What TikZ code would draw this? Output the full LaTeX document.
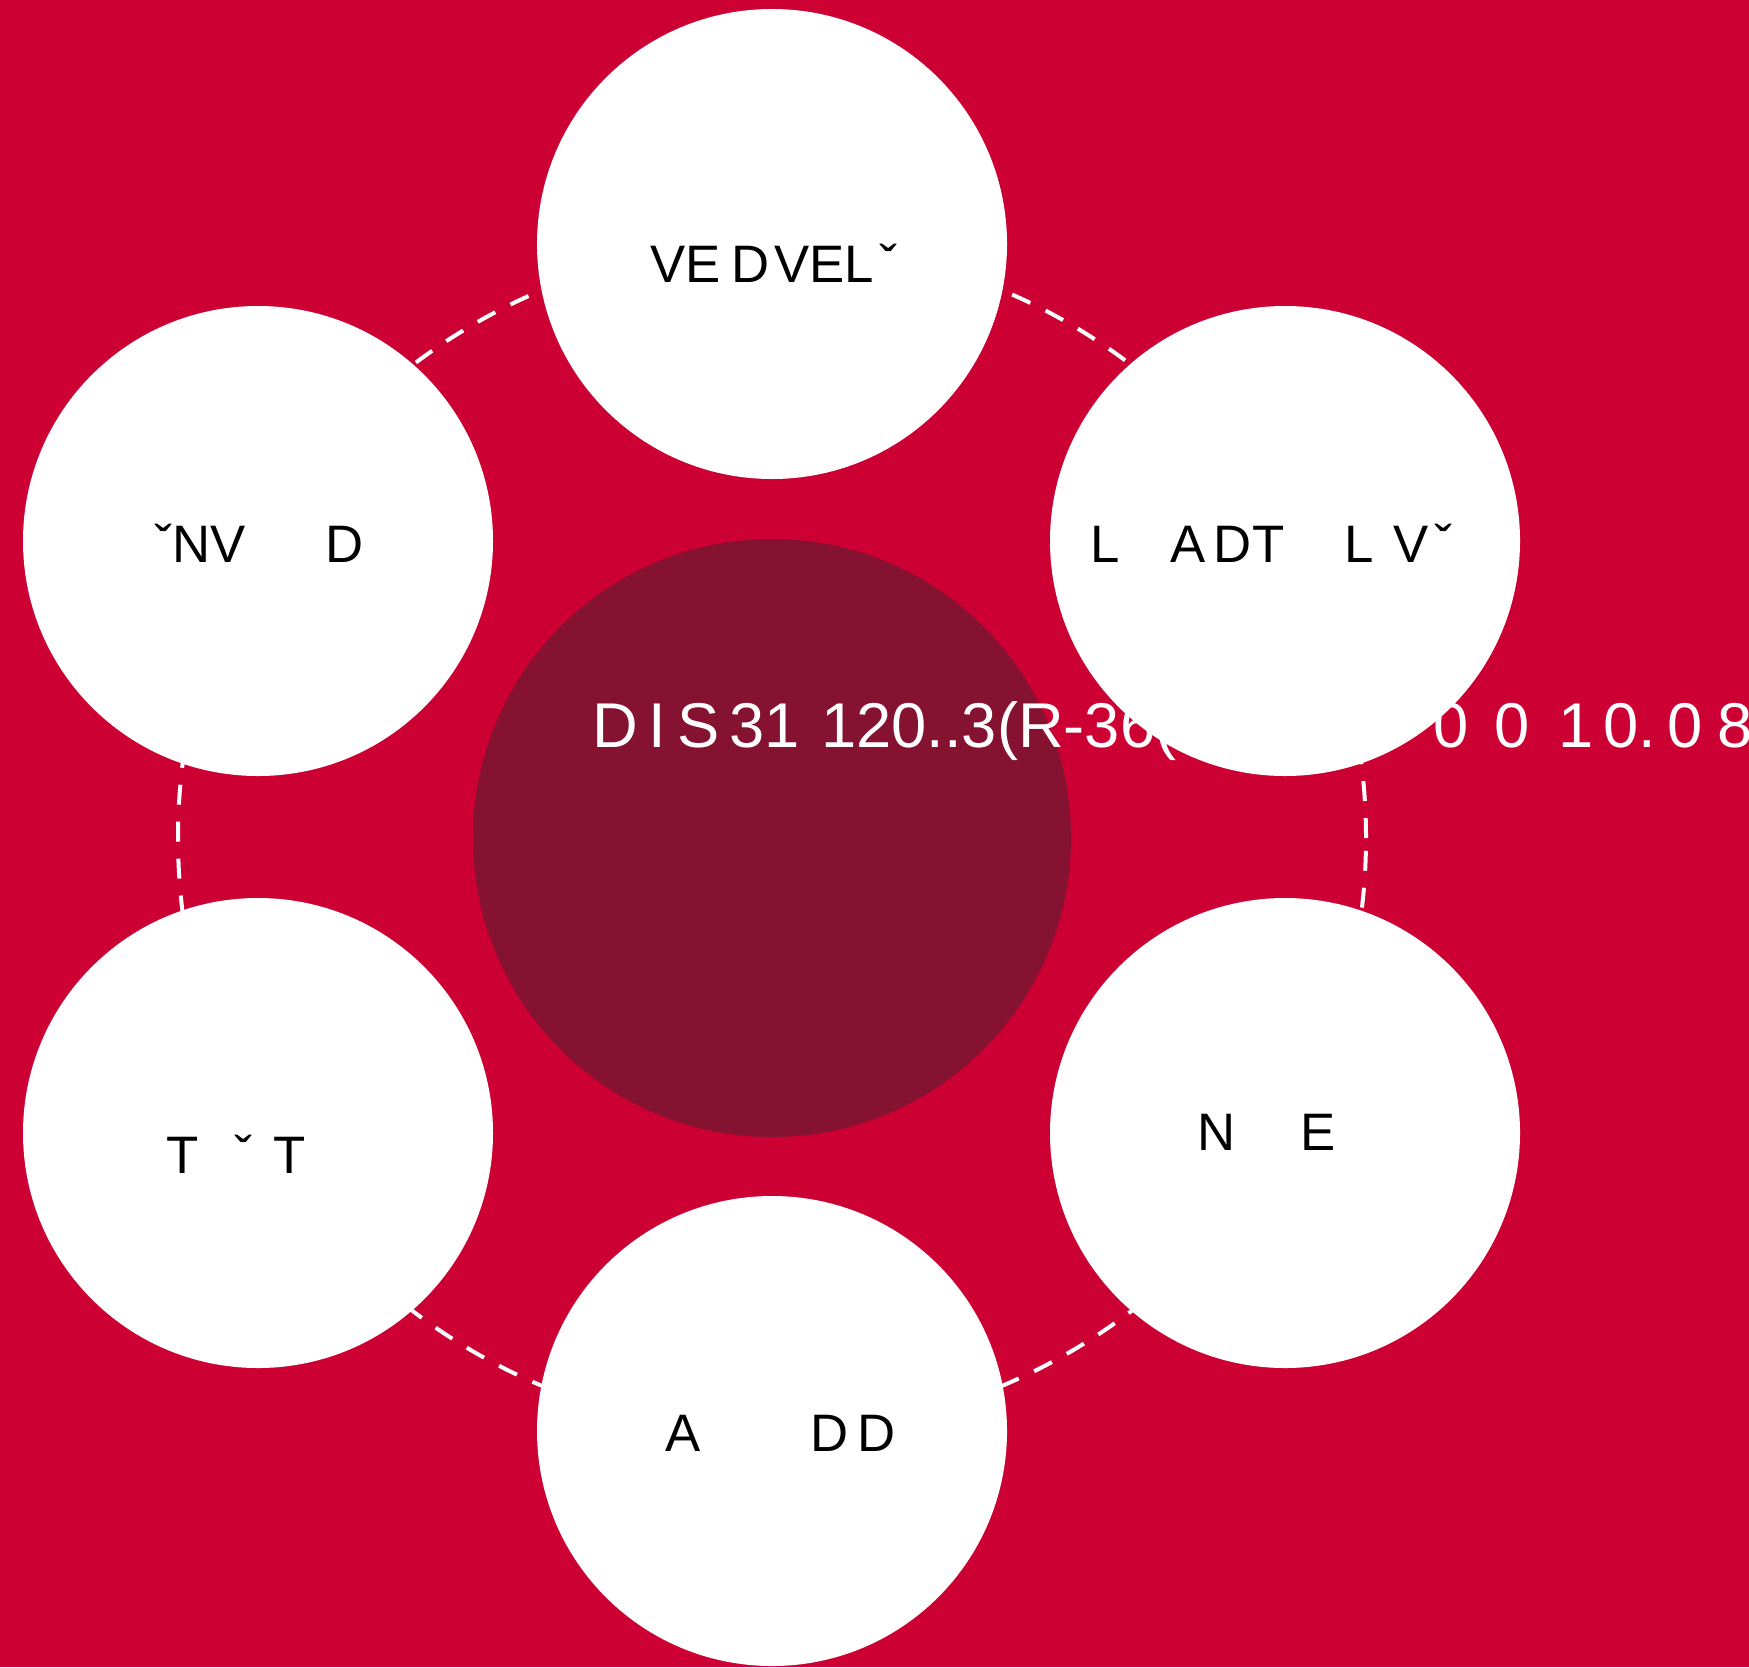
\documentclass[tikz,border=0pt]{standalone}
\usepackage{fontspec}
\setmainfont{Liberation Sans}
\definecolor{crimsonbg}{HTML}{CC0033}
\definecolor{wine}{HTML}{841230}
\usetikzlibrary{positioning}

\begin{document}
\begin{tikzpicture}[x=0.1mm, y=-0.1mm,
    hub/.style={circle, fill=wine, minimum size=59.8mm, inner sep=0pt},
    spoke/.style={circle, fill=white, minimum size=47mm, inner sep=0pt},
    spokelbl/.style={text=black, font=\fontsize{15}{18}\selectfont, anchor=base west, inner sep=0pt},
    corelbl/.style={text=white, font=\fontsize{18}{22}\selectfont, anchor=base west, inner sep=0pt},
    ring/.style={draw=white, line width=0.4mm, dash pattern=on 2mm off 1.7mm}]
  % background and frame
  \fill[crimsonbg] (0,0) rectangle (1749,1667);
  \useasboundingbox (0,0) rectangle (1749,1667);
  \coordinate (c) at (772,838);
  \draw[ring] (c) circle [radius=59.4mm];
  \node[hub] (core) at (c) {};
  % outer circles
  \node[spoke] (top) at (772,244) {};
  \node[spoke] (upleft) at (258,541) {};
  \node[spoke] (upright) at (1285,541) {};
  \node[spoke] (lowleft) at (258,1133) {};
  \node[spoke] (lowright) at (1285,1133) {};
  \node[spoke] (bottom) at (772,1431) {};
  % labels
  \node[spokelbl] (toplbl) at (650,282) {VE\hspace{1mm}D\hspace{0.5mm}VEL\v{}};
  \node[spokelbl] (ullbl) at (148,562) {\v{}\,NV\hspace{8mm}D};
  \node[spokelbl] (urlbl) at (1090,562) {L\hspace{5mm}A\,DT\hspace{6mm}L\hspace{2mm}V\v{}};
  \node[spokelbl] (lllbl) at (166,1173) {T\hspace{3mm}\v{}\hspace{3mm}T};
  \node[spokelbl] (lrlbl) at (1197,1150) {N\hspace{6.5mm}E};
  \node[spokelbl] (btlbl) at (665,1451) {A\hspace{11mm}D\,D};
  \node[corelbl] (corelbl) at (592,747) {D\,I\,S\,31\,\,120..3(R-36(S)};
  \node[corelbl] (corelbl2) at (1433,747) {0\hspace{2.6mm}0\hspace{2.8mm}1\,0.\,0\hspace{1.5mm}8};
\end{tikzpicture}
\end{document}
